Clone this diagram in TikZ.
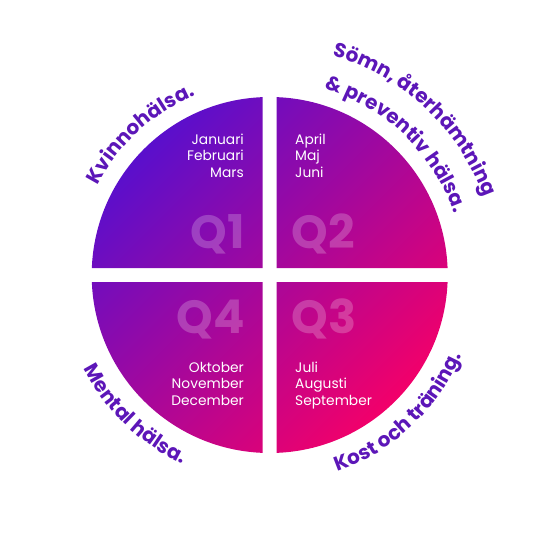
\documentclass[tikz,border=0pt]{standalone}
\usepackage{fontspec}
\setmainfont{Poppins}
\usetikzlibrary{decorations.text}
\definecolor{qviolet}{HTML}{5A0FCC}
\definecolor{qpink}{HTML}{F2006A}
\definecolor{txtpurple}{HTML}{5C16B8}
\newcommand{\curvefont}{\color{txtpurple}\bfseries\fontsize{20}{20}\selectfont}
\begin{document}
\begin{tikzpicture}[x=1pt,y=1pt,
  monthtext/.style={text=white, font=\fontsize{13.8}{16}\selectfont, inner sep=0pt},
  qtext/.style={text=white, text opacity=0.22, font=\bfseries\fontsize{46.5}{46.5}\selectfont, inner sep=0pt},
  curved/.style={decorate, decoration={text along path, text align=center, text={#1}}}
]
\useasboundingbox (0,0) rectangle (545,544);
\coordinate (C) at (269.7,269);
% quadrants
\begin{scope}
  \clip (C) circle (178);
  \shade[top color=qviolet, bottom color=qpink, shading angle=45]
    (91.7,276) rectangle (262.7,447)
    (276.7,276) rectangle (447.7,447)
    (276.7,91) rectangle (447.7,262)
    (91.7,91) rectangle (262.7,262);
\end{scope}
% quarter labels
\node[qtext, anchor=base east] (q1) at (244.8,295.7) {Q1};
\node[qtext, anchor=base west] (q2) at (291.2,295.7) {Q2};
\node[qtext, anchor=base west] (q3) at (291.2,210.7) {Q3};
\node[qtext, anchor=base east] (q4) at (244.8,210.7) {Q4};
% months
\node[monthtext, anchor=base east] (m1a) at (244,399.5) {Januari};
\node[monthtext, anchor=base east] (m1b) at (244,383) {Februari};
\node[monthtext, anchor=base east] (m1c) at (244,366.5) {Mars};
\node[monthtext, anchor=base west] (m2a) at (295,399.5) {April};
\node[monthtext, anchor=base west] (m2b) at (295,383) {Maj};
\node[monthtext, anchor=base west] (m2c) at (295,366.5) {Juni};
\node[monthtext, anchor=base west] (m3a) at (295,172) {Juli};
\node[monthtext, anchor=base west] (m3b) at (295,155.5) {Augusti};
\node[monthtext, anchor=base west] (m3c) at (295,139) {September};
\node[monthtext, anchor=base east] (m4a) at (244,172) {Oktober};
\node[monthtext, anchor=base east] (m4b) at (244,155.5) {November};
\node[monthtext, anchor=base east] (m4c) at (244,139) {December};
% curved headings
\path[curved={|\curvefont|Kvinnohälsa.}]
  (C) ++(177.5:194) arc[start angle=177.5, end angle=87.5, radius=194];
\path[curved={|\curvefont|Sömn, återhämtning}]
  (C) ++(92:228) arc[start angle=92, end angle=2, radius=228];
\path[curved={|\curvefont|{\&} preventiv hälsa.}]
  (C) ++(91:194) arc[start angle=91, end angle=1, radius=194];
\path[curved={|\curvefont|Kost och träning.}]
  (C) ++(-91.8:208) arc[start angle=-91.8, end angle=-1.8, radius=208];
\path[curved={|\curvefont|Mental hälsa.}]
  (C) ++(181:208) arc[start angle=181, end angle=271, radius=208];
\end{tikzpicture}
\end{document}
